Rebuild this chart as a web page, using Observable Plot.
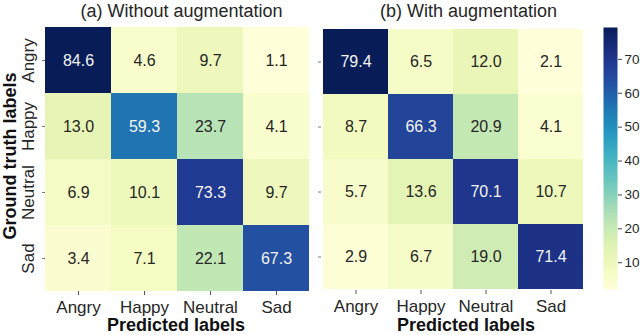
<!DOCTYPE html>
<html>
<head>
<meta charset="utf-8">
<script src="https://cdn.jsdelivr.net/npm/d3@7"></script>
<script src="https://cdn.jsdelivr.net/npm/@observablehq/plot@0.6"></script>
<style>
  html, body { margin: 0; padding: 0; background: #fff; }
  #wrap { position: relative; width: 640px; height: 335px; overflow: hidden; }
  #wrap > div, #wrap > svg { position: absolute; top: 0; }
  svg text { font-family: "Liberation Sans", Arial, sans-serif; }
</style>
</head>
<body>
<div id="wrap">
  <div id="left" style="left:0px"></div>
  <div id="right" style="left:310px"></div>
  <div id="cbar" style="left:595px"></div>
  <svg id="overlay" width="640" height="335" style="left:0;top:0;pointer-events:none"></svg>
</div>
<script>
// ---- data ----
const classes = ["Angry", "Happy", "Neutral", "Sad"];
const withoutAug = [
  [84.6, 4.6, 9.7, 1.1],
  [13.0, 59.3, 23.7, 4.1],
  [6.9, 10.1, 73.3, 9.7],
  [3.4, 7.1, 22.1, 67.3]
];
const withAug = [
  [79.4, 6.5, 12.0, 2.1],
  [8.7, 66.3, 20.9, 4.1],
  [5.7, 13.6, 70.1, 10.7],
  [2.9, 6.7, 19.0, 71.4]
];
const colorbarTicks = [10, 20, 30, 40, 50, 60, 70];
const titles = ["(a) Without augmentation", "(b) With augmentation"];
const xTitle = "Predicted labels";
const yTitle = "Ground truth labels";

function toRows(matrix) {
  const rows = [];
  matrix.forEach((r, i) => r.forEach((v, j) => rows.push({truth: classes[i], pred: classes[j], value: v})));
  return rows;
}

function heatmap(matrix, opts) {
  const rows = toRows(matrix);
  const vals = rows.map(d => d.value);
  const lo = d3.min(vals), hi = d3.max(vals);
  const thr = lo + 0.5 * (hi - lo);
  const marks = [
    Plot.cell(rows, {x: "pred", y: "truth", fill: "value", inset: 0}),
    Plot.text(rows.filter(d => d.value <= thr), {x: "pred", y: "truth", text: d => d.value.toFixed(1),
      fill: "#262626", fontSize: 16, fontFamily: "DejaVu Sans"}),
    Plot.text(rows.filter(d => d.value > thr), {x: "pred", y: "truth", text: d => d.value.toFixed(1),
      fill: "#f4f4f4", fontSize: 16, fontFamily: "DejaVu Sans"}),
    Plot.axisX({tickSize: 4, tickPadding: 5, fontSize: 17, label: null, fill: "#262626", stroke: "#555"}),
    Plot.axisY({tickSize: 3, tickFormat: () => "", label: null, stroke: "#777"})
  ];
  if (opts.yLabels) {
    marks.push(Plot.text(classes, {y: d => d, frameAnchor: "left", rotate: -90, dx: -17,
      fontSize: 17, fill: "#262626", lineAnchor: "middle", textAnchor: "middle"}));
  }
  return Plot.plot({
    width: opts.width, height: 335,
    marginLeft: opts.ml, marginRight: opts.mr, marginTop: 27, marginBottom: opts.mb,
    style: {fontFamily: "Liberation Sans, Arial, sans-serif", background: "transparent"},
    x: {domain: classes, padding: 0, axis: null},
    y: {domain: classes, padding: 0, axis: null},
    color: {type: "linear", scheme: "YlGnBu", domain: [lo, hi]},
    marks
  });
}

document.getElementById("left").append(heatmap(withoutAug, {width: 315, ml: 45, mr: 6, mb: 44, yLabels: true}));
document.getElementById("right").append(heatmap(withAug, {width: 285, ml: 11, mr: 11, mb: 45, yLabels: false}));

// colorbar for panel (b)
const bVals = withAug.flat();
const bLo = d3.min(bVals), bHi = d3.max(bVals);
document.getElementById("cbar").append(Plot.plot({
  width: 45, height: 335,
  marginLeft: 8, marginRight: 23, marginTop: 27, marginBottom: 46,
  style: {fontFamily: "Liberation Sans, Arial, sans-serif", background: "transparent"},
  x: {domain: [0, 1], axis: null},
  y: {domain: [bLo, bHi], axis: null},
  color: {type: "linear", scheme: "YlGnBu", domain: [bLo, bHi]},
  marks: [
    Plot.raster({x1: 0, x2: 1, y1: bLo, y2: bHi, fill: (x, y) => y, width: 1, height: 262}),
    Plot.axisY({anchor: "right", ticks: colorbarTicks, tickSize: 4, tickPadding: 3, fontSize: 13.5,
      label: null, fill: "#262626", stroke: "#444"})
  ]
}));

// titles and axis titles
const ov = d3.select("#overlay");
ov.append("text").attr("x", 181.5).attr("y", 17).attr("text-anchor", "middle")
  .attr("font-size", 18).attr("fill", "#262626").text(titles[0]);
ov.append("text").attr("x", 468.5).attr("y", 17).attr("text-anchor", "middle")
  .attr("font-size", 18).attr("fill", "#262626").text(titles[1]);
ov.append("text").attr("x", 176).attr("y", 331).attr("text-anchor", "middle")
  .attr("font-size", 18).attr("font-weight", "bold").attr("fill", "#111").text(xTitle);
ov.append("text").attr("x", 466).attr("y", 331).attr("text-anchor", "middle")
  .attr("font-size", 18).attr("font-weight", "bold").attr("fill", "#111").text(xTitle);
ov.append("text").attr("transform", "translate(15.5,156) rotate(-90)").attr("text-anchor", "middle")
  .attr("font-size", 18).attr("font-weight", "bold").attr("fill", "#111").text(yTitle);
</script>
</body>
</html>
